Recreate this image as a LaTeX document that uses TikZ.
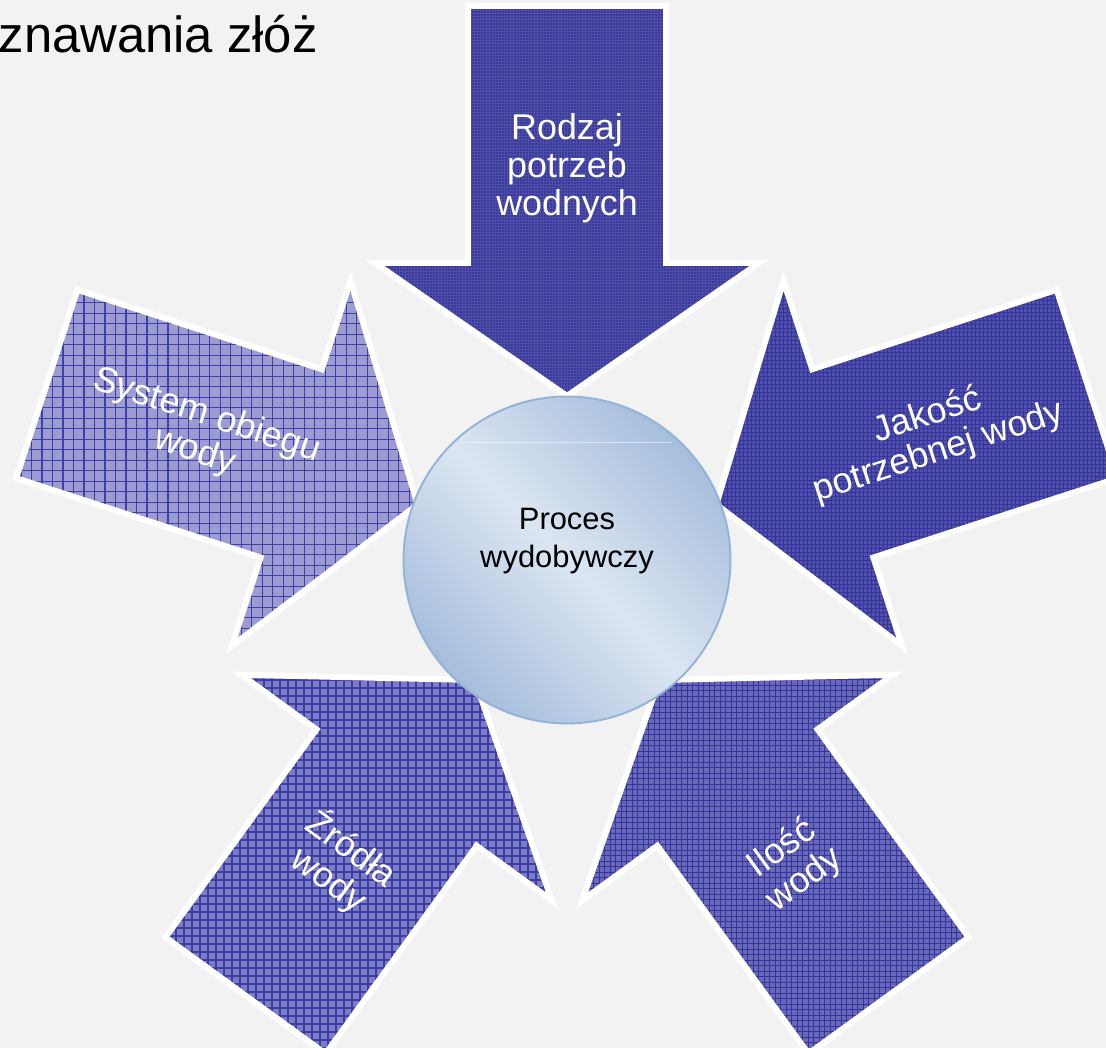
\documentclass[tikz,border=0pt]{standalone}
\usepackage{fontspec}
\setmainfont{Liberation Sans}
\usetikzlibrary{calc,positioning}

\definecolor{bg}{HTML}{F2F2F2}
\definecolor{topf}{HTML}{3A3A9A}
\definecolor{topl}{HTML}{4E4EA8}
\definecolor{sysf}{HTML}{9C9CD2}
\definecolor{sysl}{HTML}{4040AA}
\definecolor{zrf}{HTML}{7C7CC2}
\definecolor{zrl}{HTML}{3C3CA8}
\definecolor{ilf}{HTML}{6868B6}
\definecolor{ill}{HTML}{3434A0}
\definecolor{jaf}{HTML}{5050AA}
\definecolor{jal}{HTML}{34349C}
\definecolor{cdark}{HTML}{A5BDDC}
\definecolor{clight}{HTML}{DCE6F2}
\definecolor{circ}{HTML}{94B3D7}

% one arrow pointing down onto the ball, turned later about (567,495)
\newcommand{\arrowpath}{(567,652) -- (759,785) -- (666,785) -- (666,1042)
  -- (468,1042) -- (468,785) -- (375,785) -- cycle}

\tikzset{
  arrowtext/.style={text=white, align=center, inner sep=0pt,
    font=\fontsize{20.4}{21.5}\selectfont},
  proctext/.style={align=center, inner sep=0pt,
    font=\fontsize{17.6}{21.5}\selectfont},
}

\begin{document}
\begin{tikzpicture}[x=0.02cm,y=0.02cm]
  \useasboundingbox (0,0) rectangle (1106,1048);
  \clip (0,0) rectangle (1106,1048);
  \fill[bg] (0,0) rectangle (1106,1048);
  \coordinate (c) at (567,495);

  \node[anchor=base east, inner sep=0pt, font=\fontsize{28.9}{30}\selectfont]
    (title) at (318,995) {znawania złóż};

  % angle / fill / grid colour / grid step / grid width
  \foreach \a/\fc/\lc/\st/\lw in {0/topf/topl/0.06cm/0.12pt,
      72/sysf/sysl/0.21cm/0.6pt, 144/zrf/zrl/0.16cm/0.75pt,
      216/ilf/ill/0.11cm/0.5pt, 288/jaf/jal/0.08cm/0.45pt} {
    \begin{scope}
      \clip[rotate around={\a:(c)}] \arrowpath;
      \fill[\fc] (0,0) rectangle (1106,1048);
      \draw[\lc, line width=\lw, step=\st] (0,0) grid (1106,1048);
    \end{scope}
    \draw[white, line width=3.4pt, line join=miter, rotate around={\a:(c)}]
      \arrowpath;
  }

  % the ball in the middle
  \node[circle, minimum size=6.54cm, inner sep=0pt, draw=circ, line width=1.1pt,
    top color=cdark, bottom color=cdark, middle color=clight,
    shading angle=-45] (proc) at (567,488) {};
  \draw[white, opacity=.5] (462,606) -- (672,606);
  \node[proctext] (proclbl) at (567,507) {Proces\\wydobywczy};

  \node[arrowtext] (rodzaj) at ($(c)+(90:385)$) {Rodzaj\\potrzeb\\wodnych};
  \node[arrowtext, rotate=-18] (system) at ($(c)+(162:385)$)
    {System obiegu\\wody};
  \node[arrowtext, rotate=-36] (zrodla) at ($(c)+(234:385)$) {Źródła\\wody};
  \node[arrowtext, rotate=36] (ilosc) at ($(c)+(306:385)$) {Ilość\\wody};
  \node[arrowtext, rotate=18] (jakosc) at ($(c)+(18:385)$)
    {Jakość\\potrzebnej wody};
\end{tikzpicture}
\end{document}
